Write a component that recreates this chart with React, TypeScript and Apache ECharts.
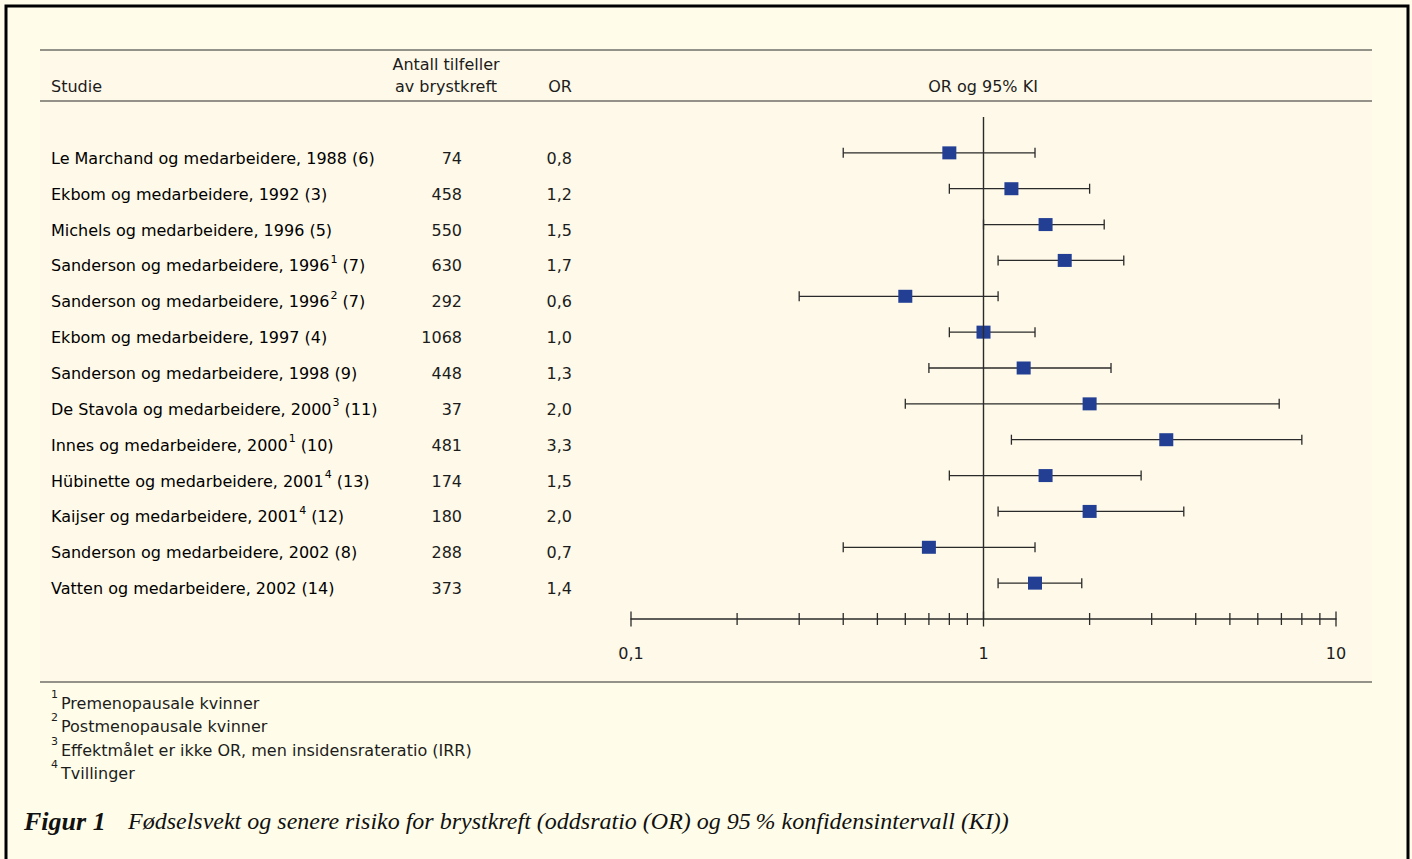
import React, { useEffect, useRef } from "react";
import * as echarts from "echarts";

const studies = [
  "Le Marchand og medarbeidere, 1988 (6)",
  "Ekbom og medarbeidere, 1992 (3)",
  "Michels og medarbeidere, 1996 (5)",
  "Sanderson og medarbeidere, 1996¹ (7)",
  "Sanderson og medarbeidere, 1996² (7)",
  "Ekbom og medarbeidere, 1997 (4)",
  "Sanderson og medarbeidere, 1998 (9)",
  "De Stavola og medarbeidere, 2000³ (11)",
  "Innes og medarbeidere, 2000¹ (10)",
  "Hübinette og medarbeidere, 2001⁴ (13)",
  "Kaijser og medarbeidere, 2001⁴ (12)",
  "Sanderson og medarbeidere, 2002 (8)",
  "Vatten og medarbeidere, 2002 (14)",
];
const cases = ["74", "458", "550", "630", "292", "1068", "448", "37", "481", "174", "180", "288", "373"];
const orLabels = ["0,8", "1,2", "1,5", "1,7", "0,6", "1,0", "1,3", "2,0", "3,3", "1,5", "2,0", "0,7", "1,4"];
const orValues = [0.8, 1.2, 1.5, 1.7, 0.6, 1.0, 1.3, 2.0, 3.3, 1.5, 2.0, 0.7, 1.4];
const ciLow = [0.4, 0.8, 1.0, 1.1, 0.3, 0.8, 0.7, 0.6, 1.2, 0.8, 1.1, 0.4, 1.1];
const ciHigh = [1.4, 2.0, 2.2, 2.5, 1.1, 1.4, 2.3, 6.9, 8.0, 2.8, 3.7, 1.4, 1.9];
const tickValues = [0.1, 0.2, 0.3, 0.4, 0.5, 0.6, 0.7, 0.8, 0.9, 1, 2, 3, 4, 5, 6, 7, 8, 9, 10];
const footnotes = [
  ["1", "Premenopausale kvinner"],
  ["2", "Postmenopausale kvinner"],
  ["3", "Effektmålet er ikke OR, men insidensrateratio (IRR)"],
  ["4", "Tvillinger"],
];
const captionLabel = "Figur 1";
const captionText = "Fødselsvekt og senere risiko for brystkreft (oddsratio (OR) og 95\u2009% konfidensintervall (KI))";

const SANS = "'DejaVu Sans', 'Liberation Sans', Arial, sans-serif";
const SERIF = "'Liberation Serif', 'Times New Roman', serif";
const FS = 16;
const TXT = "#1c1c1c";
const LINE = "#2a2a2a";
const Y_MIN = -1;
const Y_MAX = 13;

const SUP: Record<string, string> = { "¹": "1", "²": "2", "³": "3", "⁴": "4" };
const toRich = (s: string) =>
  s
    .split(/([¹²³⁴])/)
    .filter((p) => p.length > 0)
    .map((p) => (SUP[p] ? `{s|${SUP[p]}}` : `{n|${p}}`))
    .join("");

export default function App() {
  const ref = useRef<HTMLDivElement>(null);
  useEffect(() => {
    document.body.style.margin = "0";
    const chart = echarts.init(ref.current!, undefined, { renderer: "svg" });
    const rows = studies.map((_, i) => i);
    const richStyles = {
      n: { fontSize: FS, fontFamily: SANS, color: TXT, lineHeight: 20, verticalAlign: "bottom" },
      s: { fontSize: 11, fontFamily: SANS, color: TXT, lineHeight: 20, verticalAlign: "top", padding: [0, 0, 0, 1] },
    };
    const option: any = {
      animation: false,
      backgroundColor: "#FFFDE9",
      grid: { left: 631, width: 705, top: 117, height: 502 },
      xAxis: {
        type: "log",
        logBase: 10,
        min: 0.1,
        max: 10,
        axisLine: { onZero: false, lineStyle: { color: LINE, width: 1.5 } },
        axisTick: { show: false },
        splitLine: { show: false },
        minorTick: { show: false },
        axisLabel: {
          color: TXT,
          fontSize: FS,
          fontFamily: SANS,
          margin: 26,
          formatter: (v: number) => String(v).replace(".", ","),
        },
      },
      yAxis: {
        type: "value",
        min: Y_MIN,
        max: Y_MAX,
        inverse: true,
        show: false,
      },
      graphic: [
        {
          type: "rect",
          shape: { x: 6, y: 6, width: 1402, height: 900 },
          style: { fill: "none", stroke: "#000", lineWidth: 3 },
          z: 100,
        },
        {
          type: "rect",
          shape: { x: 40, y: 50, width: 1332, height: 632 },
          style: { fill: "#FEF9E8" },
          z: -10,
        },
        { type: "line", shape: { x1: 40, y1: 50, x2: 1372, y2: 50 }, style: { stroke: LINE, lineWidth: 1.2 } },
        { type: "line", shape: { x1: 40, y1: 101, x2: 1372, y2: 101 }, style: { stroke: LINE, lineWidth: 1.2 } },
        { type: "line", shape: { x1: 40, y1: 682, x2: 1372, y2: 682 }, style: { stroke: LINE, lineWidth: 1.2 } },
        { type: "text", x: 51, y: 86, style: { text: "Studie", font: `${FS}px ${SANS}`, fill: TXT, align: "left", verticalAlign: "middle" } },
        { type: "text", x: 446, y: 64, style: { text: "Antall tilfeller", font: `${FS}px ${SANS}`, fill: TXT, align: "center", verticalAlign: "middle" } },
        { type: "text", x: 446, y: 86, style: { text: "av brystkreft", font: `${FS}px ${SANS}`, fill: TXT, align: "center", verticalAlign: "middle" } },
        { type: "text", x: 560, y: 86, style: { text: "OR", font: `${FS}px ${SANS}`, fill: TXT, align: "center", verticalAlign: "middle" } },
        { type: "text", x: 983, y: 86, style: { text: "OR og 95% KI", font: `${FS}px ${SANS}`, fill: TXT, align: "center", verticalAlign: "middle" } },
        ...footnotes.flatMap(([n, t], k) => [
          { type: "text", x: 51, y: 694 + k * 23.5, style: { text: n, font: `11px ${SANS}`, fill: TXT, align: "left", verticalAlign: "middle" } },
          { type: "text", x: 61, y: 703 + k * 23.5, style: { text: t, font: `${FS}px ${SANS}`, fill: TXT, align: "left", verticalAlign: "middle" } },
        ]),
        { type: "text", x: 24, y: 821, style: { text: captionLabel, font: `italic bold 26px ${SERIF}`, fill: "#111", align: "left", verticalAlign: "middle" } },
        { type: "text", x: 128, y: 821, style: { text: captionText, font: `italic 24px ${SERIF}`, fill: "#111", align: "left", verticalAlign: "middle" } },
      ],
      series: [
        {
          type: "custom",
          name: "table",
          silent: true,
          clip: false,
          data: rows.map((i) => [1, i]),
          encode: { x: 0, y: 1 },
          renderItem: (params: any, api: any) => {
            const i = api.value(1);
            const y = api.coord([1, i])[1];
            const st = { font: `${FS}px ${SANS}`, fill: TXT, verticalAlign: "middle" };
            return {
              type: "group",
              children: [
                {
                  type: "text",
                  x: 51,
                  y: y + 3.5,
                  style: { text: toRich(studies[i]), rich: richStyles, align: "left", verticalAlign: "middle" },
                },
                { type: "text", x: 462, y: y + 5.5, style: { ...st, text: cases[i], align: "right" } },
                { type: "text", x: 572, y: y + 5.5, style: { ...st, text: orLabels[i], align: "right" } },
              ],
            };
          },
        },
        {
          type: "custom",
          name: "ci",
          silent: true,
          clip: false,
          data: rows.map((i) => [ciLow[i], ciHigh[i], i]),
          encode: { x: [0, 1], y: 2 },
          renderItem: (params: any, api: any) => {
            const i = api.value(2);
            const a = api.coord([api.value(0), i]);
            const b = api.coord([api.value(1), i]);
            const ls = { stroke: LINE, lineWidth: 1.3 };
            return {
              type: "group",
              children: [
                { type: "line", shape: { x1: a[0], y1: a[1], x2: b[0], y2: b[1] }, style: ls },
                { type: "line", shape: { x1: a[0], y1: a[1] - 5, x2: a[0], y2: a[1] + 5 }, style: ls },
                { type: "line", shape: { x1: b[0], y1: b[1] - 5, x2: b[0], y2: b[1] + 5 }, style: ls },
              ],
            };
          },
          z: 2,
        },
        {
          type: "scatter",
          name: "OR",
          data: rows.map((i) => [orValues[i], i]),
          symbol: "rect",
          symbolSize: [14, 13],
          itemStyle: { color: "#233F94", opacity: 1 },
          z: 3,
          markLine: {
            silent: true,
            symbol: "none",
            label: { show: false },
            lineStyle: { color: LINE, width: 1.4, type: "solid" },
            data: [{ xAxis: 1 }],
          },
        },
        {
          type: "custom",
          name: "ticks",
          silent: true,
          clip: false,
          data: tickValues.map((v) => [v, Y_MAX]),
          encode: { x: 0, y: 1 },
          renderItem: (params: any, api: any) => {
            const v = api.value(0);
            const p = api.coord([v, Y_MAX]);
            const big = v === 0.1 || v === 1 || v === 10;
            const h = big ? 7.5 : 6;
            return {
              type: "line",
              shape: { x1: p[0], y1: p[1] - h, x2: p[0], y2: p[1] + h },
              style: { stroke: LINE, lineWidth: 1.3 },
            };
          },
        },
      ],
    };
    chart.setOption(option);
    return () => chart.dispose();
  }, []);
  return <div ref={ref} style={{ width: 1412, height: 859 }} />;
}
